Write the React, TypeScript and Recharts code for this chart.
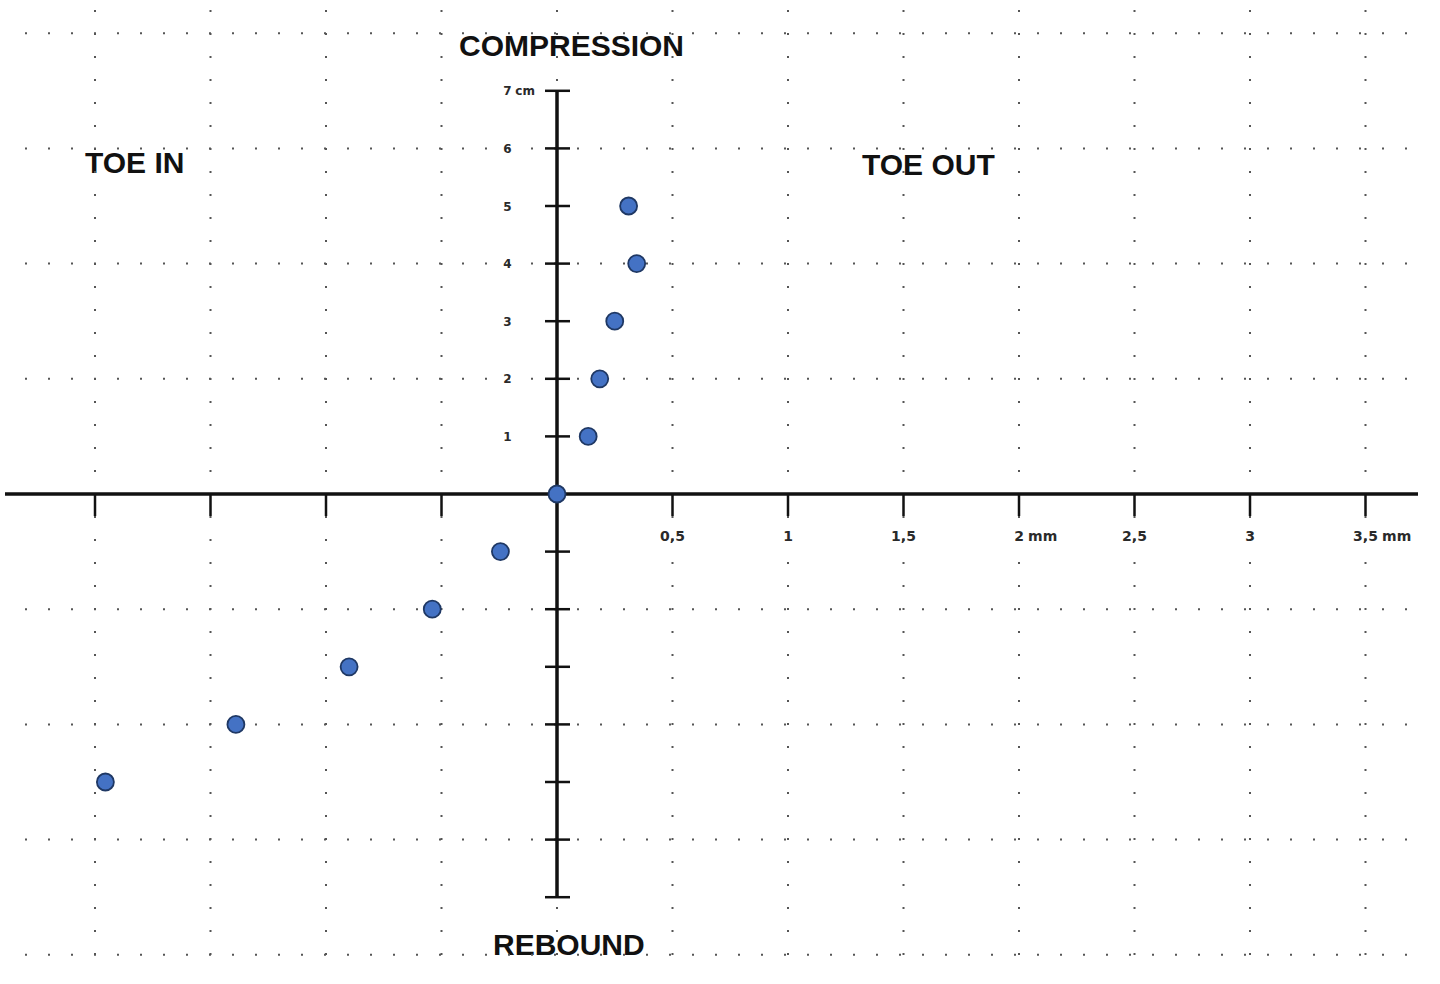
import { ScatterChart, Scatter, XAxis, YAxis, ReferenceLine } from "recharts";

// toe change (mm) read against wheel travel (cm)
const toeMm = [-1.955, -1.39, -0.9, -0.54, -0.245, 0, 0.135, 0.185, 0.25, 0.345, 0.31];
const travelCm = [-5, -4, -3, -2, -1, 0, 1, 2, 3, 4, 5];

const xTicksLeft = [-2, -1.5, -1, -0.5];
const xTicksRight = [0.5, 1, 1.5, 2, 2.5, 3, 3.5];
const xTickText = ["0,5", "1", "1,5", "2 mm", "2,5", "3", "3,5 mm"];
const yTicksUp = [1, 2, 3, 4, 5, 6, 7];
const yTickText = ["1", "2", "3", "4", "5", "6", "7 cm"];
const yTicksDown = [-1, -2, -3, -4, -5, -6, -7];
const gridX = [-2, -1.5, -1, -0.5, 0, 0.5, 1, 1.5, 2, 2.5, 3, 3.5];
const gridY = [-8, -6, -4, -2, 2, 4, 6, 8];

const points = toeMm.map((x, i) => ({ x, y: travelCm[i] }));

// page geometry
const W = 1440;
const H = 984;
const OX = 557;
const OY = 494;
const PX_MM = 231;
const PX_CM = 57.6;
const xDomain = [-OX / PX_MM, (W - OX) / PX_MM];
const yDomain = [-(H - OY) / PX_CM, OY / PX_CM];
const mm = (px: number) => px / PX_MM;
const cm = (px: number) => px / PX_CM;

const INK = "#111";
const GRID = "#555";
const TICK_FONT = "'DejaVu Sans', sans-serif";

// rough width of a bold DejaVu number string
const numWidth = (s: string, fs: number) =>
  s.split("").reduce((w, c) => w + (c === "," ? 0.38 : 0.696) * fs, 0);

const tickText = (text: string, cx: number, baseline: number, fs: number) => {
  const [num, unit] = text.split(" ");
  const half = numWidth(num, fs) / 2;
  return (
    <g fontFamily={TICK_FONT} fontWeight="bold" fontSize={fs} fill="#2a2a2a">
      <text x={cx} y={baseline} textAnchor="middle">
        {num}
      </text>
      {unit && (
        <text x={cx + half + 0.3 * fs} y={baseline} textAnchor="start">
          {unit}
        </text>
      )}
    </g>
  );
};

const xTickShape = (text?: string) => (p: any) => (
  <g>
    <line x1={p.x1} y1={p.y1} x2={p.x2} y2={p.y2} stroke={INK} strokeWidth={2.5} />
    {text && tickText(text, p.x1, Math.min(p.y1, p.y2) + 47, 14)}
  </g>
);

const yTickShape = (text?: string) => (p: any) => (
  <g>
    <line x1={p.x1} y1={p.y1} x2={p.x2} y2={p.y2} stroke={INK} strokeWidth={2.5} />
    {text && tickText(text, (p.x1 + p.x2) / 2 - 50, p.y1 + 4.5, 12)}
  </g>
);

const Dot = (p: any) => (
  <circle cx={p.cx} cy={p.cy} r={8.5} fill="#4472C4" stroke="#1F3864" strokeWidth={1.8} />
);

const titleStyle = {
  fontFamily: "'Liberation Sans', Arial, sans-serif",
  fontWeight: "bold" as const,
  fontSize: 30,
  fill: INK,
};

export default function App() {
  return (
    <div style={{ position: "absolute", left: 0, top: 0, width: W, height: H, background: "#fff" }}>
      <ScatterChart width={W} height={H} margin={{ top: 0, right: 0, bottom: 0, left: 0 }}>
        <XAxis type="number" dataKey="x" domain={xDomain} allowDataOverflow hide />
        <YAxis type="number" dataKey="y" domain={yDomain} allowDataOverflow hide />

        {gridY.map((v) => (
          <ReferenceLine
            key={`gy${v}`}
            segment={[
              { x: mm(25 - OX), y: v },
              { x: mm(1418 - OX), y: v },
            ]}
            stroke={GRID}
            strokeWidth={2}
            strokeDasharray="2 21"
          />
        ))}
        {gridX.map((v) => (
          <ReferenceLine
            key={`gx${v}`}
            segment={[
              { x: v, y: cm(OY - 10) },
              { x: v, y: -cm(968 - OY) },
            ]}
            stroke={GRID}
            strokeWidth={2}
            strokeDasharray="2 21"
          />
        ))}

        <ReferenceLine
          segment={[
            { x: mm(5 - OX), y: 0 },
            { x: mm(1418 - OX), y: 0 },
          ]}
          stroke={INK}
          strokeWidth={3.5}
        />
        <ReferenceLine
          segment={[
            { x: 0, y: -7 },
            { x: 0, y: 7 },
          ]}
          stroke={INK}
          strokeWidth={3.5}
        />

        {xTicksLeft.map((v) => (
          <ReferenceLine
            key={`xl${v}`}
            segment={[
              { x: v, y: 0 },
              { x: v, y: -cm(22) },
            ]}
            shape={xTickShape()}
          />
        ))}
        {xTicksRight.map((v, i) => (
          <ReferenceLine
            key={`xr${v}`}
            segment={[
              { x: v, y: 0 },
              { x: v, y: -cm(22) },
            ]}
            shape={xTickShape(xTickText[i])}
          />
        ))}
        {yTicksUp.map((v, i) => (
          <ReferenceLine
            key={`yu${v}`}
            segment={[
              { x: -mm(12), y: v },
              { x: mm(13), y: v },
            ]}
            shape={yTickShape(yTickText[i])}
          />
        ))}
        {yTicksDown.map((v) => (
          <ReferenceLine
            key={`yd${v}`}
            segment={[
              { x: -mm(12), y: v },
              { x: mm(13), y: v },
            ]}
            shape={yTickShape()}
          />
        ))}

        <Scatter data={points} shape={Dot} isAnimationActive={false} />

        <text x={459} y={56} {...titleStyle}>COMPRESSION</text>
        <text x={85} y={173} {...titleStyle}>TOE IN</text>
        <text x={862} y={175} {...titleStyle}>TOE OUT</text>
        <text x={493} y={955} {...titleStyle}>REBOUND</text>
      </ScatterChart>
    </div>
  );
}
